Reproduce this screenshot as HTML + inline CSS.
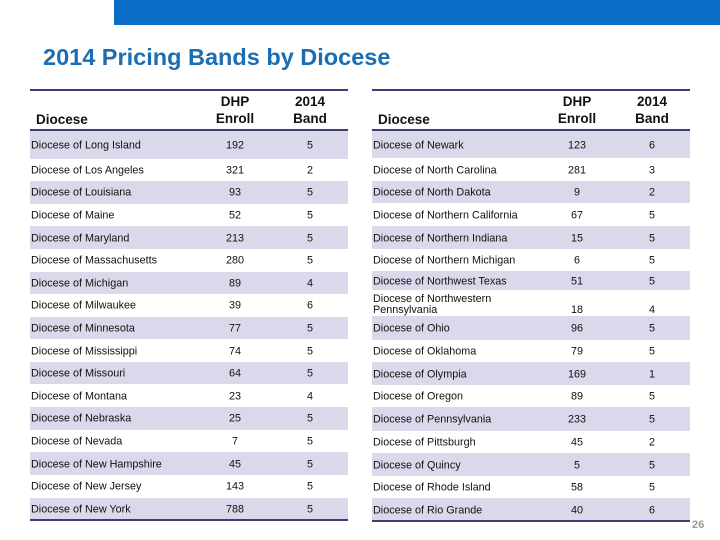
<!DOCTYPE html>
<html><head><meta charset="utf-8"><style>
body{margin:0;width:720px;height:540px;background:#fff;position:relative;overflow:hidden;font-family:"Liberation Sans",Arial,sans-serif;}
.abs{position:absolute;}
.row{position:absolute;font-size:10.8px;color:#111;}
.row span{position:absolute;top:50%;transform:translateY(-40%);white-space:nowrap;line-height:11px;}
.hdr{position:absolute;font-size:13.5px;font-weight:bold;color:#111;text-align:center;line-height:17px;}
.line{position:absolute;height:1.5px;background:#3c3c78;}
</style></head><body>
<div class="abs" style="left:114px;top:0;width:606px;height:25px;background:#0a6ec8"></div>
<div class="abs" style="left:43px;top:44px;font-size:23.5px;font-weight:bold;color:#1b6db4">2014 Pricing Bands by Diocese</div>
<div id="t"></div>
<div class="abs" style="left:692px;top:519px;font-size:11px;font-weight:bold;color:#999">26</div>
<script>
const leftNames=["Long Island","Los Angeles","Louisiana","Maine","Maryland","Massachusetts","Michigan","Milwaukee","Minnesota","Mississippi","Missouri","Montana","Nebraska","Nevada","New Hampshire","New Jersey","New York"];
const leftEnroll=[192,321,93,52,213,280,89,39,77,74,64,23,25,7,45,143,788];
const leftBand=[5,2,5,5,5,5,4,6,5,5,5,4,5,5,5,5,5];
const rightNames=["Newark","North Carolina","North Dakota","Northern California","Northern Indiana","Northern Michigan","Northwest Texas","Northwestern Pennsylvania","Ohio","Oklahoma","Olympia","Oregon","Pennsylvania","Pittsburgh","Quincy","Rhode Island","Rio Grande"];
const rightEnroll=[123,281,9,67,15,6,51,18,96,79,169,89,233,45,5,58,40];
const rightBand=[6,3,2,5,5,5,5,4,5,5,1,5,5,2,5,5,6];
const rightTops=[131,158,181,203,226,249,271,290,316,340,362,385,407,431,453,476,498,521];
const T=document.getElementById('t');
function table(x0,names,enr,band,tops,key){
  const w=318;
  const l1=document.createElement('div');l1.className='line';l1.style.cssText=`left:${x0}px;top:89px;width:${w}px`;
  
  T.appendChild(l1);
  const h=[["Diocese",x0+6,111,'left'],["DHP<br>Enroll",x0+205,93,'center'],["2014<br>Band",x0+280,93,'center']];
  h.forEach((c,i)=>{const d=document.createElement('div');d.className='hdr';d.innerHTML=c[0];
    d.style.cssText+=`top:${c[2]}px;`+(c[3]=='left'?`left:${c[1]}px;text-align:left`:`left:${c[1]-40}px;width:80px`);
    
    T.appendChild(d);});
  const l2=document.createElement('div');l2.className='line';l2.style.cssText=`left:${x0}px;top:129px;width:${w}px`;
  
  T.appendChild(l2);
  names.forEach((n,i)=>{const r=document.createElement('div');r.className='row';
    r.style.cssText=`left:${x0}px;top:${tops[i]}px;width:${w}px;height:${tops[i+1]-tops[i]}px;background:${i%2==0?'#d9d9eb':'transparent'}`;
    
    
    const long=n.startsWith('Northwestern');
    const nm=long?'Diocese of Northwestern<br>Pennsylvania':'Diocese of '+n;
    const vs=long?'top:auto;bottom:0px;transform:none':'';
    r.innerHTML=`<span style="left:1px">${nm}</span><span style="left:185px;width:40px;text-align:center;${vs}">${enr[i]}</span><span style="left:260px;width:40px;text-align:center;${vs}">${band[i]}</span>`;
    T.appendChild(r);});
  const l3=document.createElement('div');l3.className='line';l3.style.cssText=`left:${x0}px;top:${tops[tops.length-1]-1}px;width:${w}px`;
  
  T.appendChild(l3);
}
const leftTops=[131];for(let i=1;i<=17;i++)leftTops.push(158.5+(i-1)*22.6);
table(30,leftNames,leftEnroll,leftBand,leftTops,'left-table');
table(372,rightNames,rightEnroll,rightBand,rightTops,'right-table');
</script>
</body></html>
